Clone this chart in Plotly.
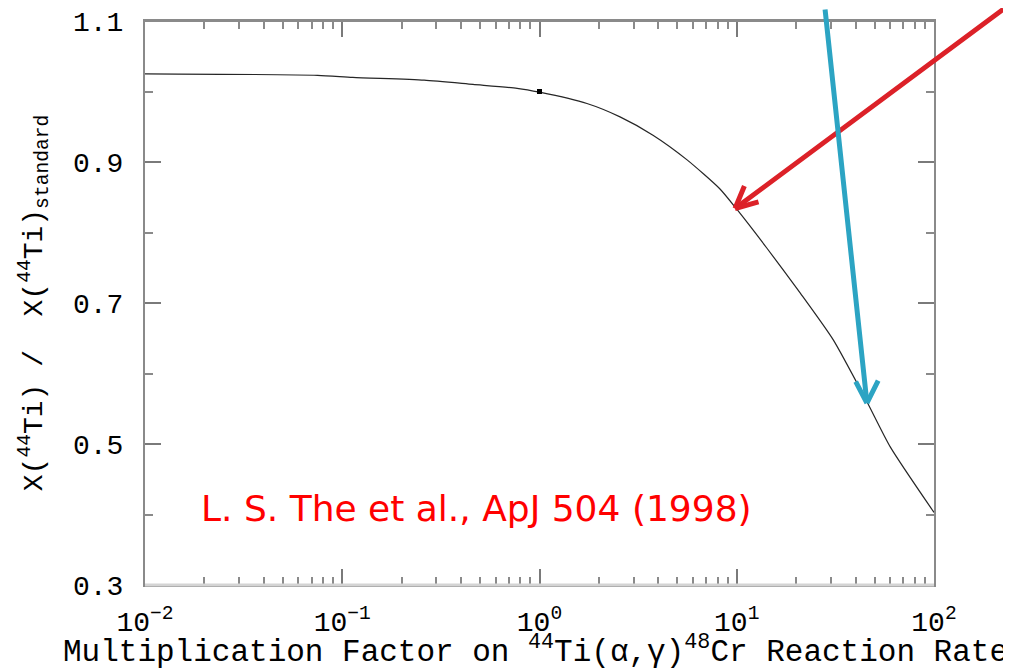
import plotly.graph_objects as go
import math

# ---- data ----
rate_factor = [0.01, 0.075, 0.113, 0.26, 0.46, 0.77, 1.0, 1.74, 2.56, 3.76,
               5.6, 8.2, 10.0, 14.2, 21.0, 30.8, 45.7, 60.0, 100.0]
ti44_ratio = [1.025, 1.023, 1.020, 1.016, 1.010, 1.0045, 0.999, 0.983, 0.964, 0.938,
              0.903, 0.862, 0.833, 0.778, 0.714, 0.648, 0.560, 0.496, 0.403]

standard_x = [1.0]
standard_y = [1.0]

y_tick_vals = [0.3, 0.5, 0.7, 0.9, 1.1]
y_tick_text = ["0.3", "0.5", "0.7", "0.9", "1.1"]
y_minor_vals = [0.4, 0.6, 0.8, 1.0]

x_tick_vals = [0.01, 0.1, 1, 10, 100]
x_tick_text = ["10<sup>\u22122</sup>", "10<sup>\u22121</sup>", "10<sup>0</sup>",
               "10<sup>1</sup>", "10<sup>2</sup>"]
x_minor_vals = [k * 10 ** e for e in range(-2, 2) for k in range(2, 10)]

x_title = "Multiplication Factor on <sup>44</sup>Ti(\u03b1,\u03b3)<sup>48</sup>Cr Reaction Rate"
y_title = "X(<sup>44</sup>Ti) /  X(<sup>44</sup>Ti)<sub>standard</sub>"

# arrow targets (points on the curve)
red_target = (9.8, 0.834)
blue_target = (45.7, 0.558)

citation = "L. S. The et al., ApJ 504 (1998)"

RED = "#dc2128"
BLUE = "#2ca4c3"
MONO = "Liberation Mono"

fig = go.Figure()
fig.add_trace(go.Scatter(
    x=rate_factor, y=ti44_ratio, mode="lines",
    line=dict(color="#262626", width=1.2, shape="spline", smoothing=0.6),
    showlegend=False, hoverinfo="skip", cliponaxis=False))
fig.add_trace(go.Scatter(
    x=standard_x, y=standard_y, mode="markers",
    marker=dict(color="black", size=5, symbol="square"),
    showlegend=False, hoverinfo="skip"))

axis_common = dict(
    showgrid=False, zeroline=False, showline=True, linecolor="#8a8a8a", linewidth=2,
    mirror="ticks", ticks="inside", ticklen=16, tickwidth=2, tickcolor="#7a7a7a",
    tickfont=dict(family=MONO, size=28, color="black"), automargin=False,
    ticklabeloverflow="allow",
)

fig.update_xaxes(
    type="log", range=[-2, 2],
    tickvals=x_tick_vals, ticktext=x_tick_text,
    minor=dict(tickvals=x_minor_vals, ticks="inside", ticklen=8, tickwidth=2, tickcolor="#8a8a8a"),
    ticklabelstandoff=10,
    **axis_common)
fig.update_yaxes(
    range=[0.3, 1.1],
    tickvals=y_tick_vals, ticktext=y_tick_text,
    minor=dict(tickvals=y_minor_vals, ticks="inside", ticklen=8, tickwidth=2, tickcolor="#8a8a8a"),
    ticklabelstandoff=14,
    title=dict(text=y_title, font=dict(family=MONO, size=28, color="black"), standoff=22),
    **axis_common)

# x-axis title placed as an annotation so it can sit low in the bottom margin
fig.add_annotation(x=0.495, y=-0.116, xref="paper", yref="paper", xanchor="center", yanchor="middle",
                   text=x_title, showarrow=False,
                   font=dict(family=MONO, size=31, color="black"))

# frame lines as in the reference (grey top, light grey bottom)
fig.add_shape(type="line", xref="paper", yref="paper", x0=0, x1=1, y0=1, y1=1,
              line=dict(color="#8a8a8a", width=2), layer="above")
fig.add_shape(type="line", xref="paper", yref="paper", x0=0, x1=1, y0=0, y1=0,
              line=dict(color="#d4d4d4", width=3), layer="above")

def arrow(target, tail, arms, color):
    tx, ty = math.log10(target[0]), target[1]
    fig.add_annotation(x=tx, y=ty, xref="x", yref="y", text="", showarrow=True,
                       ax=tail[0], ay=tail[1], arrowhead=0, arrowwidth=5,
                       arrowcolor=color, standoff=0, startstandoff=0)
    for a in arms:
        fig.add_annotation(x=tx, y=ty, xref="x", yref="y", text="", showarrow=True,
                           ax=a[0], ay=a[1], arrowhead=0, arrowwidth=5,
                           arrowcolor=color, standoff=0, startstandoff=0)

arrow(red_target, (270, -230), [(25, -7), (10, -24)], RED)
arrow(blue_target, (-42, -420), [(-12, -23), (12, -24)], BLUE)

fig.add_annotation(x=0.069, y=0.135, xref="paper", yref="paper", xanchor="left", yanchor="middle",
                   text=citation, showarrow=False,
                   font=dict(family="DejaVu Sans", size=36, color="#ff0000"))

# the page body adds an 8px offset, so the figure is sized to fit the 1011x670 window
fig.update_layout(
    width=1003, height=662,
    margin=dict(l=137, r=77, t=13, b=85),
    paper_bgcolor="white", plot_bgcolor="white",
)

fig.write_html("out.html")
